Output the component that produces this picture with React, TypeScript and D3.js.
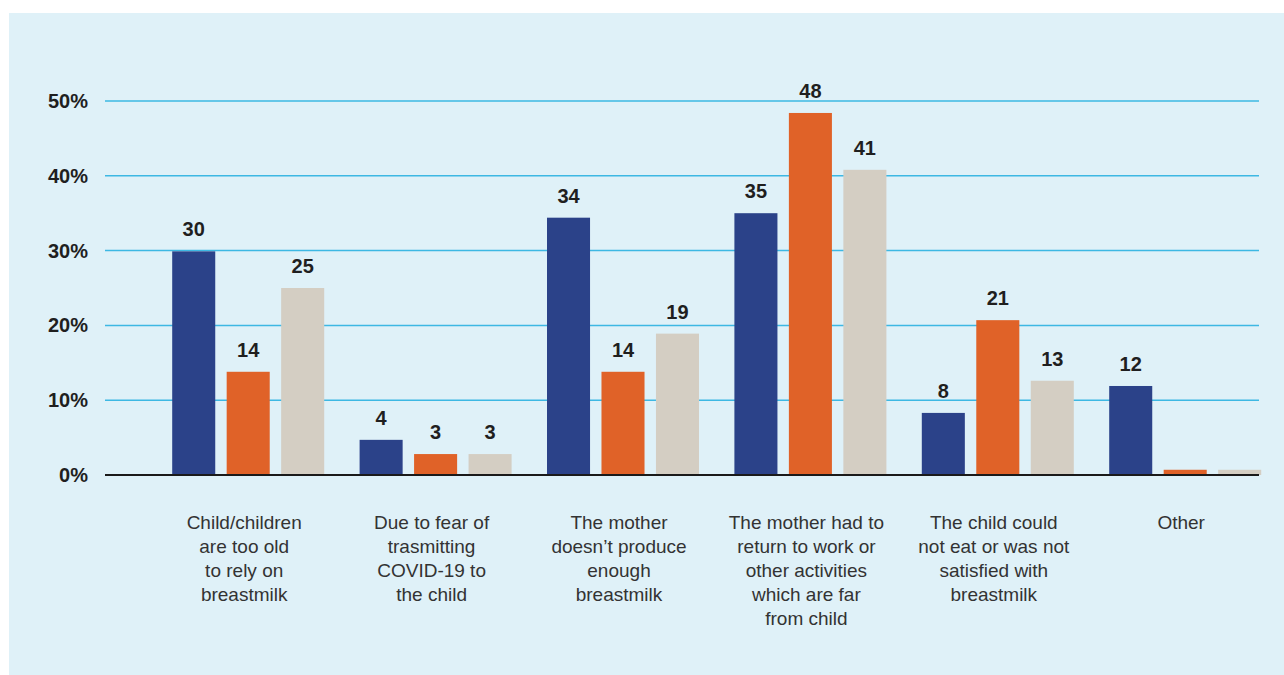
import React from "react";
import * as d3 from "d3";

const categories: string[][] = [
  ["Child/children", "are too old", "to rely on", "breastmilk"],
  ["Due to fear of", "trasmitting", "COVID-19 to", "the child"],
  ["The mother", "doesn\u2019t produce", "enough", "breastmilk"],
  ["The mother had to", "return to work or", "other activities", "which are far", "from child"],
  ["The child could", "not eat or was not", "satisfied with", "breastmilk"],
  ["Other"],
];
const seriesNames = ["s1", "s2", "s3"];
const series1 = [29.9, 4.7, 34.4, 35.0, 8.3, 11.9];
const series2 = [13.8, 2.8, 13.8, 48.4, 20.7, 0.7];
const series3 = [25.0, 2.8, 18.9, 40.8, 12.6, 0.7];
const labels1: (string | null)[] = ["30", "4", "34", "35", "8", "12"];
const labels2: (string | null)[] = ["14", "3", "14", "48", "21", null];
const labels3: (string | null)[] = ["25", "3", "19", "41", "13", null];
const yTicks = [0, 10, 20, 30, 40, 50];
const colors = ["#2b4289", "#e06228", "#d4cec3"];

export default function App() {
  const W = 1284, H = 675;
  const y = d3.scaleLinear().domain([0, 50]).range([475, 101]);
  const keys = categories.map((_, i) => String(i));
  const x0 = d3.scaleBand().domain(keys).range([154.5, 1278.9]).padding(0);
  const x1 = d3.scaleBand().domain(seriesNames).range([-76, 76]).paddingInner(0.21).paddingOuter(0);
  const vals = [series1, series2, series3];
  const labs = [labels1, labels2, labels3];
  const boldFont = "'Liberation Sans', Arial, sans-serif";
  const catFont = "'Liberation Sans', Arial, sans-serif";
  const gx0 = 105, gx1 = 1259;
  return (
    <div style={{ position: "absolute", left: 0, top: 0 }}>
      <svg width={W} height={H} style={{ display: "block" }}>
        <rect x={0} y={0} width={W} height={H} fill="#ffffff" />
        <rect x={9} y={13} width={W - 9} height={H - 13} fill="#dff1f8" />
        {yTicks.map((t) => (
          <g key={t}>
            {t > 0 && (
              <line x1={gx0} x2={gx1} y1={y(t)} y2={y(t)} stroke="#3db8e3" strokeWidth={1.5} />
            )}
            <text x={88} y={y(t) + 7} textAnchor="end" fontFamily={boldFont} fontWeight={700} fontSize={20} fill="#1f1f1f">
              {t}%
            </text>
          </g>
        ))}
        {keys.map((k, i) => {
          const cx = (x0(k) as number) + x0.bandwidth() / 2;
          return (
            <g key={k}>
              {seriesNames.map((s, j) => {
                const bx = cx + (x1(s) as number);
                const v = vals[j][i];
                const lab = labs[j][i];
                return (
                  <g key={s}>
                    <rect x={bx} y={y(v)} width={x1.bandwidth()} height={y(0) - y(v)} fill={colors[j]} />
                    {lab && (
                      <text x={bx + x1.bandwidth() / 2} y={y(v) - 15} textAnchor="middle" fontFamily={boldFont} fontWeight={700} fontSize={20} fill="#1f1f1f">
                        {lab}
                      </text>
                    )}
                  </g>
                );
              })}
              <text textAnchor="middle" fontFamily={catFont} fontSize={19} fill="#333333">
                {categories[i].map((line, li) => (
                  <tspan key={li} x={cx - 4} y={529 + li * 24}>
                    {line}
                  </tspan>
                ))}
              </text>
            </g>
          );
        })}
        <line x1={gx0} x2={gx1} y1={y(0)} y2={y(0)} stroke="#1a1a1a" strokeWidth={2} />
      </svg>
    </div>
  );
}
